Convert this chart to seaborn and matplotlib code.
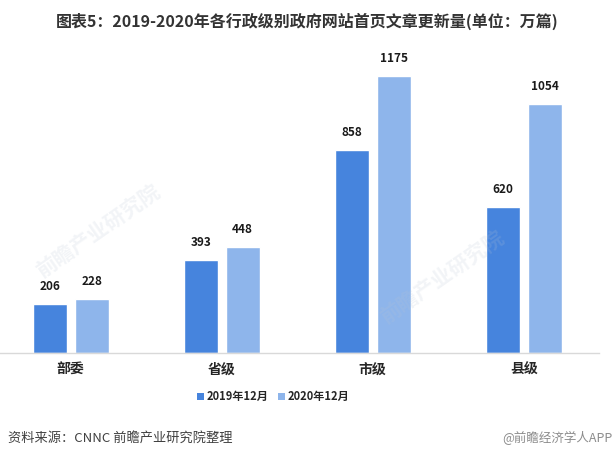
import matplotlib
matplotlib.use("Agg")
import matplotlib.pyplot as plt
import seaborn as sns
import pandas as pd
from matplotlib.patches import Patch

categories = ["部委", "省级", "市级", "县级"]
series_names = ["2019年12月", "2020年12月"]
values_2019 = [206, 393, 858, 620]
values_2020 = [228, 448, 1175, 1054]

title = "图表5：2019-2020年各行政级别政府网站首页文章更新量(单位：万篇)"
source = "资料来源：CNNC 前瞻产业研究院整理"
credit = "@前瞻经济学人APP"

sns.set_theme(style="white")
plt.rcParams["font.family"] = ["Noto Sans CJK SC", "DejaVu Sans"]

df = pd.DataFrame({
    "cat": categories * 2,
    "series": [series_names[0]] * 4 + [series_names[1]] * 4,
    "val": values_2019 + values_2020,
})

colors = ["#4684DD", "#8EB5EB"]

fig = plt.figure(figsize=(6.14, 4.61), dpi=100)

ax = fig.add_axes([-0.008, 0.234, 0.984, 0.666])
ax.patch.set_alpha(0)

sns.barplot(data=df, x="cat", y="val", hue="series", palette=colors,
            width=0.556, gap=0.19, ax=ax, legend=False, saturation=1)

for cont in ax.containers:
    ax.bar_label(cont, labels=[f"{int(v)}" for v in cont.datavalues],
                 padding=8, fontsize=8.5, fontweight="bold", color="#1a1a1a")

ax.set_ylim(0, 1300)
ax.set_xlim(-0.5, 3.5)
ax.set_xlabel("")
ax.set_ylabel("")
ax.set_yticks([])
for s in ["top", "right", "left"]:
    ax.spines[s].set_visible(False)
ax.spines["bottom"].set_color("#D9D9D9")
ax.spines["bottom"].set_linewidth(1.0)
ax.tick_params(axis="x", length=0, pad=7)
for lbl in ax.get_xticklabels():
    lbl.set_fontweight("bold")
    lbl.set_fontsize(10)
    lbl.set_color("#262626")

# faint watermarks
for (x, y) in [(0.16, 0.50), (0.72, 0.40)]:
    fig.text(x, y, "前瞻产业研究院", fontsize=15, color="#B8C4D4", alpha=0.18,
             rotation=35, ha="center", va="center", fontweight="bold")

handles = [Patch(facecolor=c, edgecolor="none") for c in colors]
fig.legend(handles, series_names, loc="center", bbox_to_anchor=(0.445, 0.140),
           ncol=2, frameon=False, handlelength=0.6, handleheight=0.6,
           handletextpad=0.25, columnspacing=0.9,
           prop={"weight": "bold", "size": 8, "family": ["Noto Sans CJK SC", "DejaVu Sans"]})

fig.text(0.5, 0.953, title, ha="center", va="center", fontsize=11.5,
         fontweight="bold", color="#333333")
fig.text(0.013, 0.049, source, ha="left", va="center", fontsize=9.5,
         color="#404040")
fig.text(0.997, 0.049, credit, ha="right", va="center", fontsize=9,
         color="#8C8C8C")

fig.savefig("out.png", dpi=100)
